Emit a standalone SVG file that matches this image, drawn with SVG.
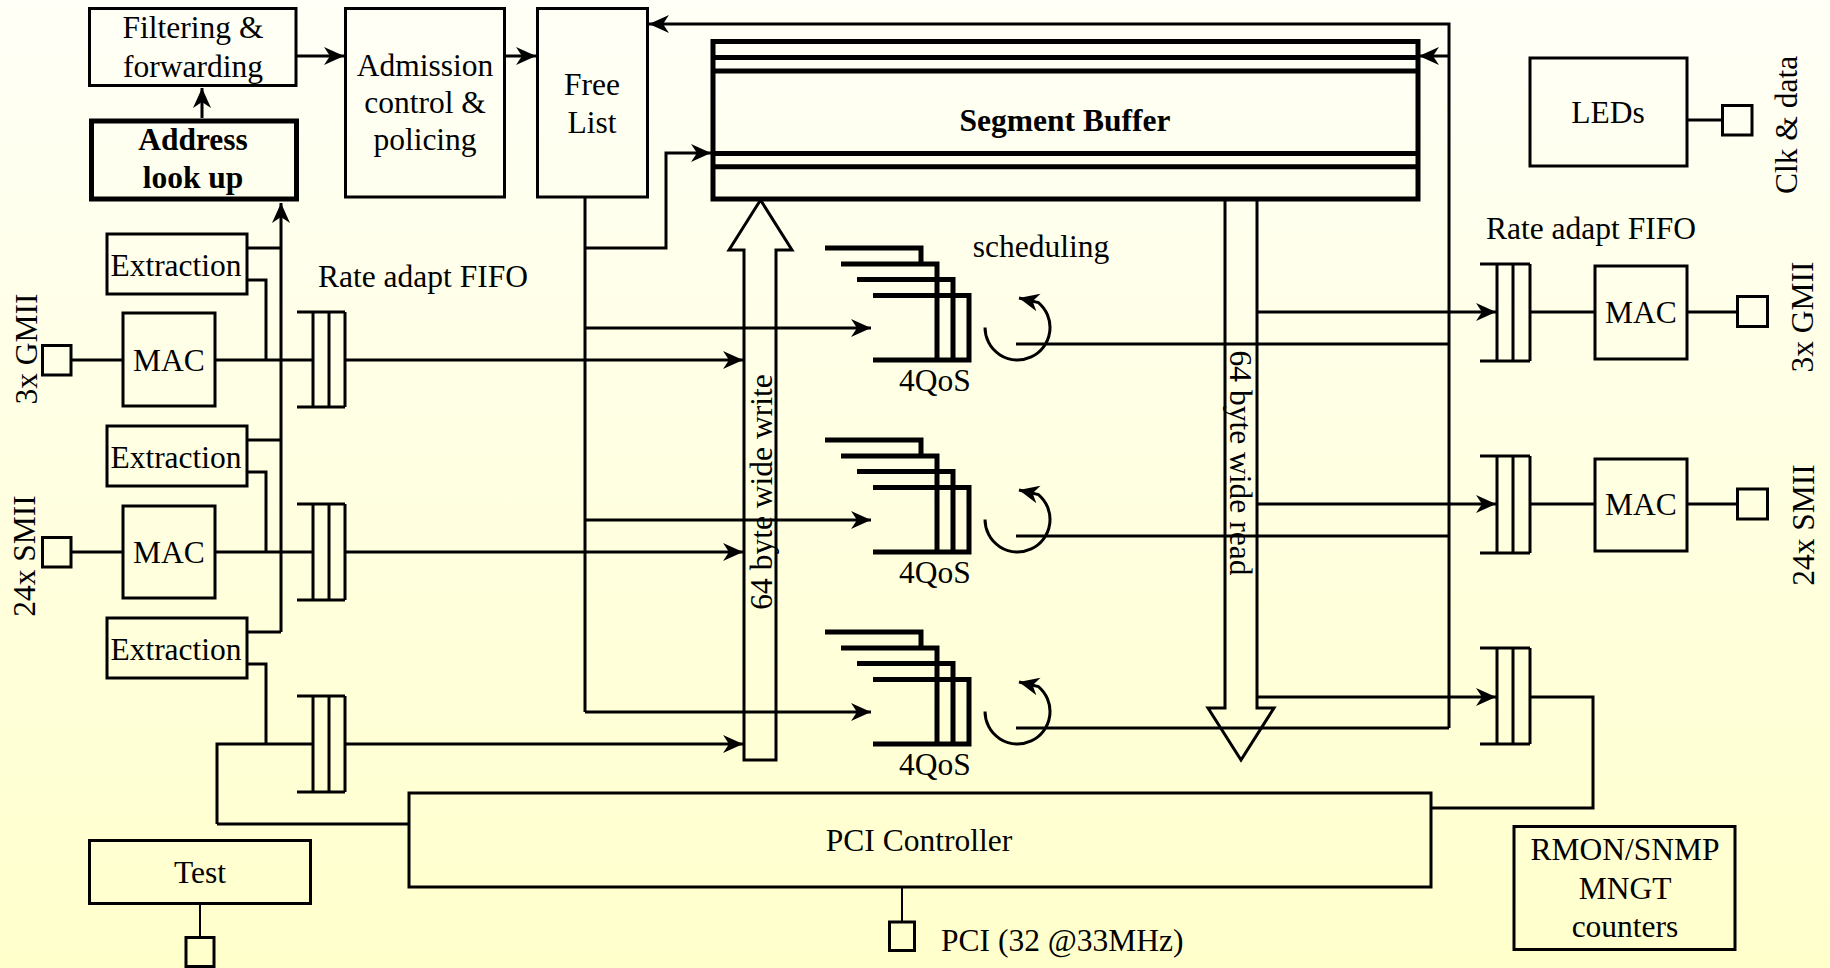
<svg xmlns="http://www.w3.org/2000/svg" width="1830" height="968" viewBox="0 0 1830 968">
<defs>
<linearGradient id="bg" x1="0" y1="0" x2="0" y2="1">
<stop offset="0" stop-color="#FFFFF7"/>
<stop offset="1" stop-color="#FFFFCC"/>
</linearGradient>
<marker id="ah" markerUnits="userSpaceOnUse" viewBox="-21 -10 22 20" refX="0" refY="0" markerWidth="22" markerHeight="20" orient="auto">
<path d="M0,0 L-20,-9 L-14,0 L-20,9 Z" fill="#000"/>
</marker>
<style>
.ln{fill:none;stroke:#000;stroke-width:3}
.thin{fill:none;stroke:#000;stroke-width:2}
.box{fill:none;stroke:#000;stroke-width:3}
.bold{fill:none;stroke:#000;stroke-width:5}
.q{fill:none;stroke:#000;stroke-width:5}
.sb{fill:none;stroke:#000;stroke-width:5}
.arw{marker-end:url(#ah)}
.t{font-family:"Liberation Serif","Times New Roman",serif;font-size:31.5px;fill:#000;text-anchor:middle}
.tb{font-weight:bold}
.tl{text-anchor:start}
</style>
</defs>
<rect x="0" y="0" width="1830" height="968" fill="url(#bg)"/>

<g id="connectors">
<!-- top path -->
<path class="ln arw" d="M202,118 V88"/>
<path class="ln arw" d="M297,56 H344"/>
<path class="ln arw" d="M505,56 H536"/>
<path class="ln arw" d="M1449,728 V24 H649"/>
<path class="ln arw" d="M1449,56 H1419"/>
<!-- free list -->
<path class="ln" d="M585,197 V712"/>
<path class="ln arw" d="M585,248 H666 V153 H711"/>
<path class="ln arw" d="M585,328 H871"/>
<path class="ln arw" d="M585,520 H871"/>
<path class="ln arw" d="M585,712 H871"/>
<!-- left inputs -->
<path class="ln" d="M71,360 H123"/>
<path class="ln" d="M215,360 H313"/>
<path class="ln arw" d="M345,360 H743"/>
<path class="ln" d="M71,552 H123"/>
<path class="ln" d="M215,552 H313"/>
<path class="ln arw" d="M345,552 H743"/>
<path class="ln" d="M217,824 V744 H313"/>
<path class="ln" d="M217,824 H409"/>
<path class="ln arw" d="M345,744 H743"/>
<!-- extraction -->
<path class="ln arw" d="M281,632 V203"/>
<path class="ln" d="M247,248 H281"/>
<path class="ln" d="M247,280 H266 V360"/>
<path class="ln" d="M247,440 H281"/>
<path class="ln" d="M247,472 H266 V552"/>
<path class="ln" d="M247,632 H281"/>
<path class="ln" d="M247,664 H266 V744"/>
<!-- scheduler outputs -->
<path class="ln" d="M1016,344 H1449"/>
<path class="ln" d="M1016,536 H1449"/>
<path class="ln" d="M1016,728 H1449"/>
<!-- read outputs -->
<path class="ln arw" d="M1257,312 H1496"/>
<path class="ln arw" d="M1257,504 H1496"/>
<path class="ln arw" d="M1257,697 H1496"/>
<path class="ln" d="M1530,312 H1595"/>
<path class="ln" d="M1687,312 H1737"/>
<path class="ln" d="M1530,504 H1595"/>
<path class="ln" d="M1687,504 H1737"/>
<path class="ln" d="M1530,697 H1593 V808 H1431"/>
<path class="ln" d="M1687,120 H1722"/>
<!-- pci / test -->
<path class="thin" d="M902,887 V922"/>
<path class="thin" d="M200,904 V937"/>
<!-- scheduling arcs -->
<path class="ln arw" d="M985,327.5 A32.5,32.5 0 1 0 1038.4,302.6 L1019,298"/>
<path class="ln arw" d="M985,519.5 A32.5,32.5 0 1 0 1038.4,494.6 L1019,490"/>
<path class="ln arw" d="M985,711.5 A32.5,32.5 0 1 0 1038.4,686.6 L1019,682"/>
</g>

<g id="filtering">
<rect class="box" x="89.5" y="8.5" width="206.5" height="77"/>
<text class="t" x="193" y="38">Filtering &amp;</text>
<text class="t" x="193" y="77">forwarding</text>
</g>
<g id="address">
<rect class="bold" x="91.5" y="121" width="205" height="78"/>
<text class="t tb" x="193" y="150">Address</text>
<text class="t tb" x="193" y="188">look up</text>
</g>
<g id="admission">
<rect class="box" x="345.5" y="8.5" width="159" height="188.5"/>
<text class="t" x="425" y="76">Admission</text>
<text class="t" x="425" y="113">control &amp;</text>
<text class="t" x="425" y="150">policing</text>
</g>
<g id="freelist">
<rect class="box" x="537.5" y="8.5" width="110" height="188.5"/>
<text class="t" x="592" y="95">Free</text>
<text class="t" x="592" y="133">List</text>
</g>
<g id="segbuf">
<rect class="sb" x="713" y="41.5" width="705" height="157.5"/>
<path class="q" d="M713,57.5 H1418 M713,71 H1418 M713,153.5 H1418 M713,166.8 H1418"/>
<text class="t tb" x="1065" y="131">Segment Buffer</text>
</g>
<g id="writebus">
<polygon class="ln" points="744,760 744,250 729,250 760.5,200 792,250 776,250 776,760"/>
<text class="t" transform="translate(772,492) rotate(-90)">64 byte wide write</text>
</g>
<g id="readbus">
<polyline class="ln" points="1225,200 1225,708 1208,708 1241,760 1274,708 1257,708 1257,200"/>
<text class="t" transform="translate(1230,463) rotate(90)">64 byte wide read</text>
</g>

<g id="extraction1"><rect class="box" x="107" y="234" width="140" height="60"/><text class="t" x="176" y="275.5">Extraction</text></g>
<g id="extraction2"><rect class="box" x="107" y="426" width="140" height="60"/><text class="t" x="176" y="467.5">Extraction</text></g>
<g id="extraction3"><rect class="box" x="107" y="618" width="140" height="60"/><text class="t" x="176" y="659.5">Extraction</text></g>

<g id="mac1"><rect class="box" x="123" y="313" width="92" height="93"/><text class="t" x="169" y="371">MAC</text></g>
<g id="mac2"><rect class="box" x="123" y="506" width="92" height="92"/><text class="t" x="169" y="563">MAC</text></g>

<g id="port-gmii-in">
<rect class="box" x="42.5" y="345.5" width="28.5" height="29.5"/>
<text class="t" transform="translate(37,349) rotate(-90)">3x GMII</text>
</g>
<g id="port-smii-in">
<rect class="box" x="42.5" y="537.5" width="28.5" height="29.5"/>
<text class="t" transform="translate(35,556) rotate(-90)">24x SMII</text>
</g>

<g id="fifo-in">
<text class="t" x="423" y="287">Rate adapt FIFO</text>
<path class="ln" d="M297,312 H345 M297,407 H345 M313,312 V407 M329,312 V407 M345,312 V407"/>
<path class="ln" d="M297,504 H345 M297,600 H345 M313,504 V600 M329,504 V600 M345,504 V600"/>
<path class="ln" d="M297,696 H345 M297,792 H345 M313,696 V792 M329,696 V792 M345,696 V792"/>
</g>

<g id="queue1">
<path class="q" d="M825,248 H921 V264 M841,264 H937 V360 M857,279.5 H953 V360 M873,295.5 H969 V360 H873"/>
<text class="t" x="935" y="391">4QoS</text>
</g>
<g id="queue2">
<path class="q" d="M825,440 H921 V456 M841,456 H937 V552 M857,471.5 H953 V552 M873,487.5 H969 V552 H873"/>
<text class="t" x="935" y="583">4QoS</text>
</g>
<g id="queue3">
<path class="q" d="M825,632 H921 V648 M841,648 H937 V744 M857,663.5 H953 V744 M873,679.5 H969 V744 H873"/>
<text class="t" x="935" y="775">4QoS</text>
</g>
<g id="scheduling"><text class="t" x="1041" y="257">scheduling</text></g>

<g id="fifo-out">
<text class="t" x="1591" y="239">Rate adapt FIFO</text>
<path class="ln" d="M1480,264 H1530 M1480,361 H1530 M1497,264 V361 M1513,264 V361 M1530,264 V361"/>
<path class="ln" d="M1480,456 H1530 M1480,553 H1530 M1497,456 V553 M1513,456 V553 M1530,456 V553"/>
<path class="ln" d="M1480,648 H1530 M1480,744 H1530 M1497,648 V744 M1513,648 V744 M1530,648 V744"/>
</g>

<g id="mac-out1"><rect class="box" x="1595" y="266" width="92" height="93"/><text class="t" x="1641" y="323">MAC</text></g>
<g id="mac-out2"><rect class="box" x="1595" y="459" width="92" height="92"/><text class="t" x="1641" y="515">MAC</text></g>
<g id="port-gmii-out">
<rect class="box" x="1737.5" y="296.5" width="30" height="30"/>
<text class="t" transform="translate(1813,317) rotate(-90)">3x GMII</text>
</g>
<g id="port-smii-out">
<rect class="box" x="1737.5" y="489" width="30" height="30"/>
<text class="t" transform="translate(1814,525) rotate(-90)">24x SMII</text>
</g>

<g id="leds">
<rect class="box" x="1530" y="58" width="157" height="108"/>
<text class="t" x="1608" y="123">LEDs</text>
</g>
<g id="port-leds">
<rect class="box" x="1722.5" y="105.5" width="29.5" height="29.5"/>
<text class="t" transform="translate(1797,125) rotate(-90)">Clk &amp; data</text>
</g>

<g id="pci">
<rect class="box" x="409" y="793" width="1022" height="94"/>
<text class="t" x="919" y="851">PCI Controller</text>
</g>
<g id="port-pci">
<rect class="box" x="889.5" y="922" width="25" height="28.5"/>
<text class="t tl" x="941" y="951">PCI (32 @33MHz)</text>
</g>
<g id="test">
<rect class="box" x="89.5" y="840.5" width="221" height="63"/>
<text class="t" x="200" y="883">Test</text>
</g>
<g id="port-test">
<rect class="box" x="186" y="937.5" width="28" height="29"/>
</g>
<g id="rmon">
<rect class="box" x="1514" y="826.5" width="221" height="123"/>
<text class="t" x="1625" y="860">RMON/SNMP</text>
<text class="t" x="1625" y="899">MNGT</text>
<text class="t" x="1625" y="937">counters</text>
</g>
</svg>
